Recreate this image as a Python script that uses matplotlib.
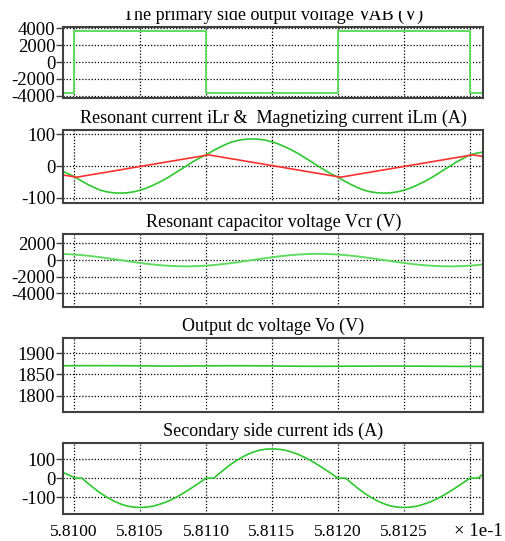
import numpy as np
import matplotlib
matplotlib.use("Agg")
import matplotlib.pyplot as plt
from matplotlib.patches import Rectangle

# ---------------- data (x in units of 1e-1 s) ----------------
# VAB square wave: switching instants and levels
vab_t = [5.80990, 5.81000, 5.81000, 5.81100, 5.81100, 5.81200, 5.81200, 5.81300, 5.81300, 5.81312]
vab_v = [-3700, -3700, 3700, 3700, -3700, -3700, 3700, 3700, -3700, -3700]

# common sample grid for iLr / Vcr (every 0.00005)
t_grid = np.round(5.80990 + 0.00005 * np.arange(65), 5)

ilr = [-14, -23, -33, -45, -57, -67, -76, -81, -84, -85,
       -84, -81, -76, -69, -60, -50, -39, -26, -13, 0,
       13, 25, 35, 47, 58, 68, 76, 81, 84, 85,
       84, 81, 76, 69, 60, 50, 39, 26, 13, 0,
       -13, -25, -35, -47, -58, -68, -76, -81, -84, -85,
       -84, -81, -76, -69, -60, -50, -39, -26, -13, 0,
       13, 24, 35, 40, 44]

ilm_t = [5.80990, 5.81002, 5.81102, 5.81202, 5.81302, 5.81312]
ilm_v = [-27, -35, 35, -35, 35, 29]

vcr = [741, 713, 668, 607, 530, 441, 340, 232, 117, 0,
       -117, -232, -340, -441, -530, -607, -668, -713, -741, -750,
       -741, -713, -668, -607, -530, -441, -340, -232, -117, 0,
       117, 232, 340, 441, 530, 607, 668, 713, 741, 750,
       741, 713, 668, 607, 530, 441, 340, 232, 117, 0,
       -117, -232, -340, -441, -530, -607, -668, -713, -741, -750,
       -741, -713, -668, -607, -530]

vo_t = [5.80990, 5.81010, 5.81030, 5.81050, 5.81070, 5.81090, 5.81110, 5.81130,
        5.81150, 5.81170, 5.81190, 5.81210, 5.81230, 5.81250, 5.81270, 5.81290, 5.81312]
vo_v = [1870.2, 1870.6, 1870.5, 1870.0, 1869.6, 1869.8, 1870.2, 1870.3,
        1869.8, 1869.2, 1869.0, 1869.3, 1869.6, 1869.6, 1869.2, 1868.8, 1868.7]

ids_t = [5.80990, 5.80995, 5.81001, 5.81006,
         5.81010, 5.81015, 5.81020, 5.81025, 5.81030, 5.81035, 5.81040, 5.81045, 5.81050,
         5.81055, 5.81060, 5.81065, 5.81070, 5.81075, 5.81080, 5.81085, 5.81090, 5.81095, 5.81100,
         5.81106,
         5.81110, 5.81115, 5.81120, 5.81125, 5.81130, 5.81135, 5.81140, 5.81145, 5.81150,
         5.81155, 5.81160, 5.81165, 5.81170, 5.81175, 5.81180, 5.81185, 5.81190, 5.81195, 5.81200,
         5.81206,
         5.81210, 5.81215, 5.81220, 5.81225, 5.81230, 5.81235, 5.81240, 5.81245, 5.81250,
         5.81255, 5.81260, 5.81265, 5.81270, 5.81275, 5.81280, 5.81285, 5.81290, 5.81295, 5.81300,
         5.81306, 5.81312]
ids_v = [34, 20, 0, 0,
         -24, -52, -78, -100, -119, -134, -145, -151, -153,
         -151, -146, -136, -124, -108, -90, -69, -47, -24, 0,
         0,
         24, 52, 78, 100, 119, 134, 145, 151, 153,
         151, 146, 136, 124, 108, 90, 69, 47, 24, 0,
         0,
         -24, -52, -78, -100, -119, -134, -145, -151, -153,
         -151, -146, -136, -124, -108, -90, -69, -47, -24, 0,
         0, 30]

titles = ["The primary side output voltage VAB (V)",
          "Resonant current iLr &  Magnetizing current iLm (A)",
          "Resonant capacitor voltage Vcr (V)",
          "Output dc voltage Vo (V)",
          "Secondary side current ids (A)"]
yticks = [[-4000, -2000, 0, 2000, 4000], [-100, 0, 100], [-4000, -2000, 0, 2000],
          [1800, 1850, 1900], [-100, 0, 100]]
ylims = [(-4250, 4200), (-115, 113), (-5600, 3100), (1762, 1935), (-187, 182)]
xticks = [5.8100, 5.8105, 5.8110, 5.8115, 5.8120, 5.8125, 5.8130]
xlabels = ["5.8100", "5.8105", "5.8110", "5.8115", "5.8120", "5.8125", ""]

# ---------------- figure ----------------
plt.rcParams['font.family'] = ['Liberation Serif', 'DejaVu Serif']
plt.rcParams['axes.unicode_minus'] = False

W, H = 506, 541
fig = plt.figure(figsize=(W / 100, H / 100), dpi=100)

left, right = 63.5, 483.0
boxes = [(26.5, 98.0), (130.0, 202.7), (234.3, 306.7), (338.3, 411.7), (443.3, 514.0)]
GREEN = '#2dc82d'
LGREEN = '#5fdc5f'
RED = '#ff3030'
axes = []
for i, (top, bot) in enumerate(boxes):
    ax = fig.add_axes([left / W, 1 - bot / H, (right - left) / W, (bot - top) / H])
    axes.append(ax)
    ax.set_xlim(5.80992, 5.81310)
    ax.set_ylim(*ylims[i])
    ax.set_yticks(yticks[i])
    ax.set_xticks(xticks)
    ax.grid(True, color='black', linestyle=(0, (1, 1.5)), linewidth=0.9)
    ax.set_axisbelow(True)
    for s in ax.spines.values():
        s.set_color('#404040')
        s.set_linewidth(1.5)
    ax.tick_params(axis='y', direction='out', length=5, width=1, color='#404040',
                   labelsize=13.5, pad=1)
    ax.tick_params(axis='x', direction='out', length=0, labelsize=12.5, pad=7)
    ax.set_title(titles[i], fontsize=13, pad=5)
    if i < 4:
        ax.set_xticklabels([])
    else:
        ax.set_xticklabels(xlabels)

axes[0].plot(vab_t, vab_v, color=LGREEN, lw=1.4)
axes[1].plot(t_grid, ilr, color=GREEN, lw=1.2)
axes[1].plot(ilm_t, ilm_v, color=RED, lw=1.2)
axes[2].plot(t_grid, vcr, color=LGREEN, lw=1.4)
axes[3].plot(vo_t, vo_v, color=GREEN, lw=1.2)
axes[4].plot(ids_t, ids_v, color=GREEN, lw=1.2)

fig.text(503 / W, 1 - 531 / H, "× 1e-1", ha='right', va='center', fontsize=13.5)

# the top title of the reference is cut off by the upper border of the image
fig.patches.append(Rectangle((0, 1 - 11 / H), 1, 11 / H, transform=fig.transFigure,
                             facecolor='white', edgecolor='none', zorder=10))

fig.savefig("out.png", dpi=100)
